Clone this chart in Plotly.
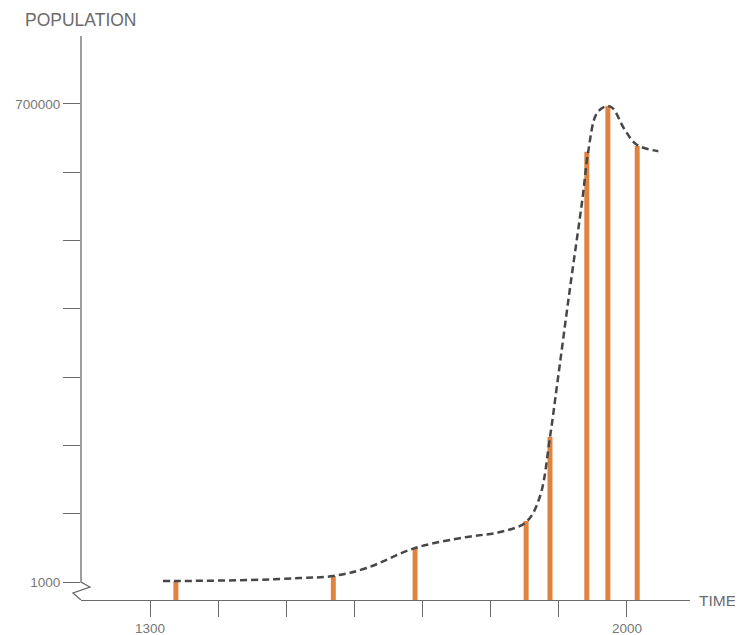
import plotly.graph_objects as go

# bar samples (year, population)
bar_years = [1338, 1569, 1689, 1852, 1887, 1941, 1972, 2015]
bar_values = [2500, 9800, 50700, 90200, 213000, 630000, 697000, 638600]

# dashed trend curve
curve_years = [1319, 1338, 1447, 1520, 1569, 1618, 1689, 1765, 1814, 1852,
               1872, 1887, 1897, 1916, 1935, 1943, 1956, 1971, 1979, 1997,
               2015, 2046]
curve_values = [2460, 2460, 3900, 6850, 9770, 21500, 50700, 66800, 74100, 88700,
                125300, 213000, 286000, 428000, 564000, 629700, 686700, 697000,
                694000, 661800, 640000, 631000]

x_ticks = [1300, 1400, 1500, 1600, 1700, 1800, 1900, 2000]
x_labels = ["1300", "", "", "", "", "", "", "2000"]
y_ticks = [1000, 100857, 200714, 300571, 400429, 500286, 600143, 700000]
y_labels = ["1000", "", "", "", "", "", "", "700000"]

X_RANGE = [1198.7, 2092.5]
Y_RANGE = [-25320, 799400]

GREY = "#6b6b6b"
FONT = "Liberation Sans"

fig = go.Figure()

fig.add_trace(go.Bar(
    x=bar_years,
    y=[v - Y_RANGE[0] for v in bar_values],
    base=Y_RANGE[0],
    width=7.3,
    marker=dict(color="#E0833F", line=dict(width=0)),
    hoverinfo="skip",
))

fig.add_trace(go.Scatter(
    x=curve_years, y=curve_values,
    mode="lines",
    line=dict(color="#474747", width=2.5, dash="7px,4px", shape="spline", smoothing=1.0),
    hoverinfo="skip",
))

# y axis line with the break zigzag at the bottom
fig.add_shape(
    type="path", xref="paper", yref="y",
    xsizemode="pixel", ysizemode="pixel",
    xanchor=0, yanchor=1000,
    path="M 0,546 L 0,0 L 9,-5 L -8,-11 L 0,-18",
    line=dict(color=GREY, width=1.3),
)

fig.add_annotation(text="POPULATION", xref="paper", yref="paper",
                   x=-0.095, y=1.028, xanchor="left", yanchor="middle",
                   showarrow=False, font=dict(family=FONT, size=17.5, color=GREY))
fig.add_annotation(text="TIME", xref="paper", yref="paper",
                   x=1.012, y=0, xanchor="left", yanchor="middle",
                   showarrow=False, font=dict(family=FONT, size=15.5, color=GREY))

# page body adds 8px of margin, so the figure is smaller than the window
fig.update_layout(
    width=735, height=627,
    margin=dict(l=73, r=53, t=28, b=35),
    plot_bgcolor="white", paper_bgcolor="white",
    showlegend=False,
    font=dict(family=FONT, size=13.5, color="#777777"),
    xaxis=dict(range=X_RANGE, showgrid=False, zeroline=False, automargin=False,
               showline=True, linecolor=GREY, linewidth=1.3,
               ticks="outside", ticklen=16, tickcolor=GREY, tickwidth=1.3,
               tickvals=x_ticks, ticktext=x_labels),
    yaxis=dict(range=Y_RANGE, showgrid=False, zeroline=False, showline=False,
               automargin=False,
               ticks="outside", ticklen=17, tickcolor=GREY, tickwidth=1.3,
               tickvals=y_ticks, ticktext=y_labels),
)

fig.write_html("out.html")
